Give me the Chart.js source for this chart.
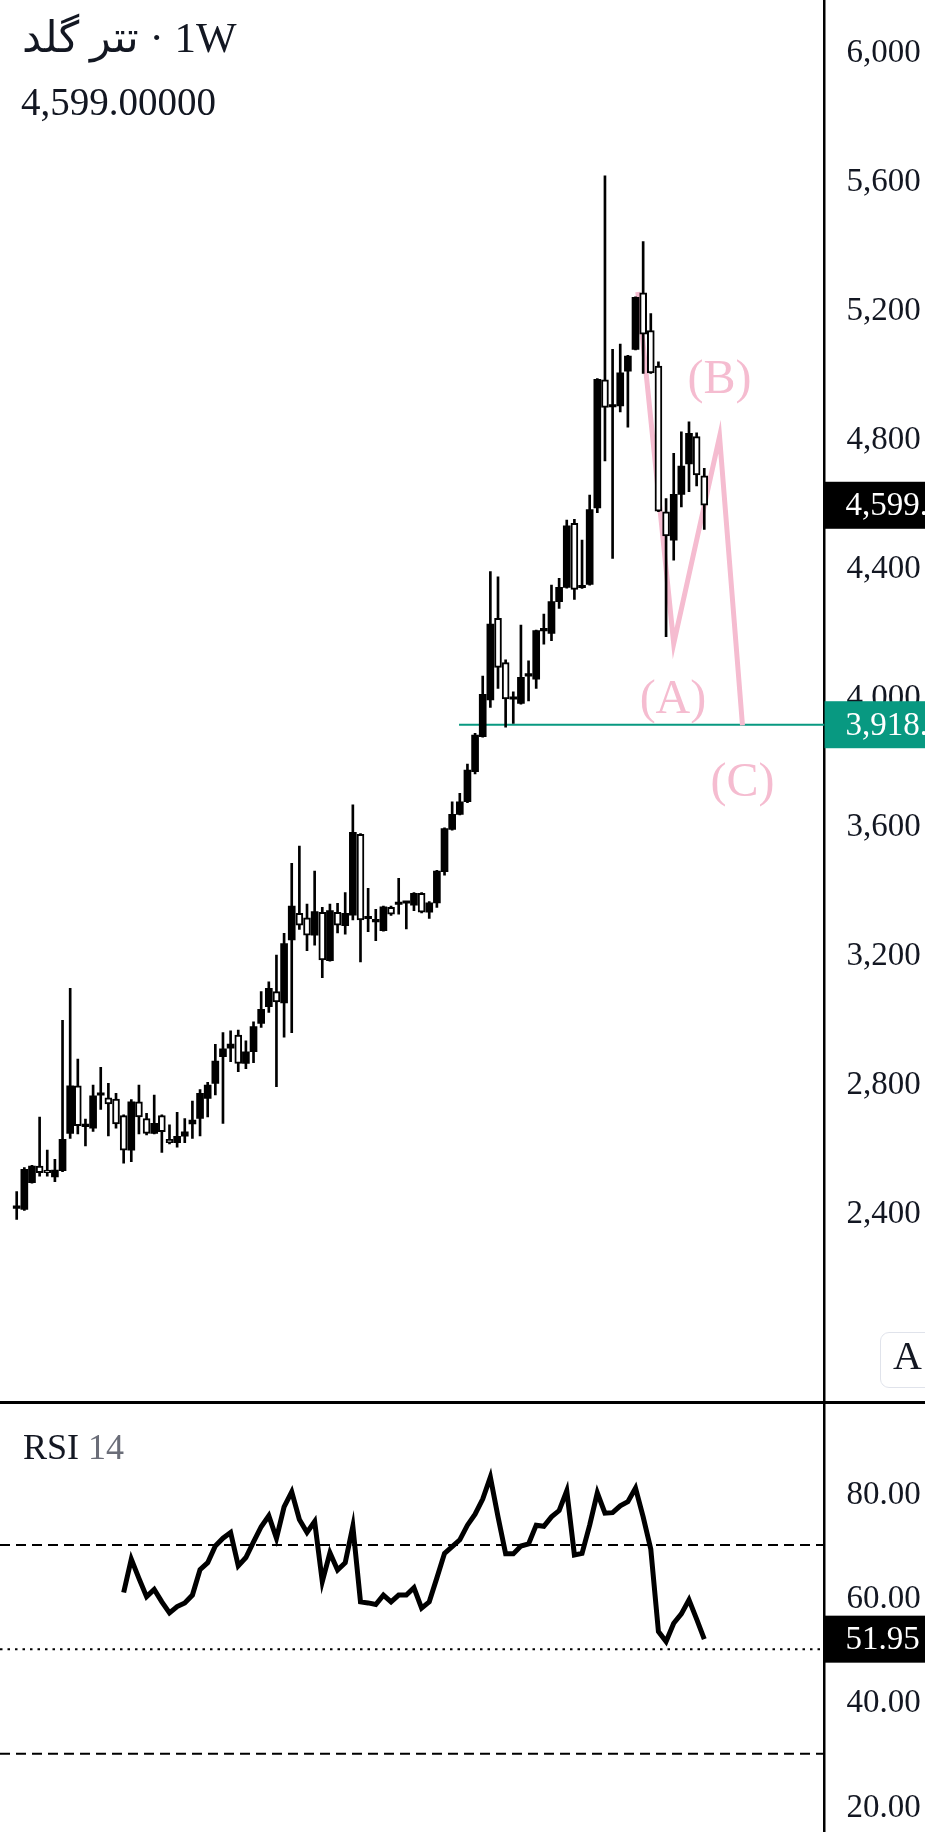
<!DOCTYPE html>
<html><head><meta charset="utf-8">
<script src="https://cdn.jsdelivr.net/npm/chart.js@4.4.1/dist/chart.umd.min.js"></script>
<style>
html,body{margin:0;padding:0;background:#fff;width:925px;height:1832px;overflow:hidden;position:relative}
#main{position:absolute;left:0;top:0;width:1000px;height:1402px}
#rsi{position:absolute;left:0;top:1402px;width:1000px;height:430px}
.t{position:absolute;font-family:"Liberation Serif","DejaVu Sans",serif;color:#131722;white-space:nowrap}
#sep{position:absolute;left:0;top:1400.5px;width:925px;height:3px;background:#000}
#abtn{position:absolute;left:880px;top:1331.5px;width:80px;height:56px;border:1.5px solid #e0e3eb;border-radius:9px;background:#fff;box-sizing:border-box}
</style></head><body>
<div id="main"><canvas id="c1"></canvas></div>
<div id="rsi"><canvas id="c2"></canvas></div>
<div id="sep"></div>
<div class="t" style="left:22px;top:15.5px;font-size:43px;line-height:43px"><bdi>تتر گلد</bdi>&#x200E; · 1W</div>
<div class="t" style="left:21px;top:82.3px;font-size:39px;line-height:39px">4,599.00000</div>
<div class="t" style="left:23px;top:1429px;font-size:36px;line-height:36px">RSI <span style="color:#6a6d78">14</span></div>
<div id="abtn"></div>
<div class="t" style="left:893px;top:1336px;font-size:40px;line-height:40px">A</div>
<script>
// ---- data (weekly OHLC) ----
const open = [2417,2414,2497,2548,2530,2515,2534,2650,2797,2671,
2666,2768,2760,2756,2705,2598,2748,2696,2650,2705,
2631,2621,2641,2679,2696,2758,2805,2888,2914,2955,
2867,2903,2991,3043,3090,3055,3250,3333,3319,3265,
3336,3186,3336,3294,3327,3578,3316,3306,3279,3351,
3360,3364,3358,3395,3336,3365,3462,3593,3640,3679,
3772,3881,3995,4248,4111,3997,3984,4069,4059,4209,
4201,4300,4344,4543,4343,4353,4591,4988,4904,4907,
5015,5083,5258,5141,5031,4579,4491,4633,4727,4812,
4690];
const high = [2469,2544,2551,2700,2598,2569,3001,3100,2880,2694,
2800,2855,2805,2774,2707,2755,2800,2712,2769,2707,
2676,2715,2696,2750,2786,2808,2926,2963,2968,2970,
2937,2996,3090,3120,3203,3271,3488,3541,3361,3464,
3351,3361,3364,3397,3669,3580,3410,3345,3355,3355,
3441,3368,3397,3397,3369,3466,3598,3679,3705,3796,
3891,4069,4393,4377,4119,4020,4227,4116,4212,4261,
4351,4372,4553,4555,4491,4631,4992,5621,5083,5099,
5064,5246,5417,5194,5044,4620,4760,4827,4858,4824,
4714];
const low = [2383,2411,2495,2517,2517,2500,2531,2634,2648,2611,
2656,2724,2642,2666,2557,2562,2648,2645,2648,2591,
2617,2607,2621,2634,2642,2701,2769,2681,2872,2841,
2851,2869,2979,3025,2795,2948,2962,3283,3217,3234,
3133,3184,3272,3268,3312,3182,3276,3248,3277,3326,
3330,3284,3341,3334,3317,3351,3451,3591,3638,3676,
3765,3879,3972,4031,3910,3922,3982,3992,4031,4168,
4179,4279,4342,4307,4341,4351,4576,4737,4434,4889,
4841,5081,5008,5008,4579,4191,4429,4594,4641,4659,
4524];
const close = [2419,2538,2548,2528,2528,2536,2631,2797,2674,2673,
2766,2770,2741,2679,2598,2748,2701,2650,2681,2655,
2621,2641,2655,2691,2774,2800,2874,2912,2927,2867,
2903,2981,3035,3100,3058,3239,3355,3296,3265,3338,
3188,3341,3296,3333,3584,3312,3318,3308,3353,3330,
3362,3366,3395,3336,3365,3464,3596,3640,3679,3777,
3886,4012,4230,4096,3998,3999,4065,4071,4210,4211,
4300,4344,4535,4338,4346,4586,4990,4903,4906,5010,
5062,5244,5130,5010,4581,4504,4633,4721,4822,4693,
4599];
const rsiStart = 14;
const rsi = [60.9,67.3,63.6,60.1,61.5,59.1,57.0,58.2,58.9,60.4,
65.3,66.6,69.8,71.3,72.4,66.0,67.6,70.6,73.5,75.6,
71.3,77.3,80.2,74.9,72.4,74.5,63.0,68.5,65.2,66.6,
73.6,59.1,58.9,58.6,60.4,59.1,60.4,60.4,61.8,57.9,
59.1,63.7,68.4,69.7,71.0,73.8,75.9,78.8,83.0,75.4,
68.3,68.3,69.8,70.2,73.8,73.6,75.4,76.6,80.4,68.1,
68.4,73.8,80.0,76.1,76.2,77.5,78.3,80.9,75.4,69.2,
53.4,51.5,55.0,56.8,59.5,55.8,51.95];
const priceTicks = [2400,2800,3200,3600,4000,4400,4800,5200,5600,6000];
const rsiTicks = [20,40,60,80];
const rsiBands = [70,50,30];
const supportLevel = 3918;
const supportStartIndex = 57.9;
const waveX = [81.3,86,92,95];
const waveY = [5261,4170,4812,3916];
const waveLabels = ['(A)','(B)','(C)'];
const waveLabelX = [85.9,92.0,95.0];
const waveLabelY = [3994,4988,3737];

// ---- styles ----
const FONT = '"Liberation Serif", serif';
const TXT = '#131722';
const PINK = '#f5bcd0';
const TEAL = '#089981';
const XMIN = -2.186, XMAX = 105.75;
const AXIS_W = 175.4;
const fmtTick = v => v.toLocaleString('en-US');
const fmtPrice = v => v.toLocaleString('en-US',{minimumFractionDigits:5,maximumFractionDigits:5});
const isUp = i => close[i] >= open[i];

const lastClose = close[close.length-1];
const lastRsi = rsi[rsi.length-1];

function axisY(ticks, fmt, labelOffset){
  return {
    type:'linear', position:'right',
    grid:{display:false, drawTicks:false},
    border:{display:true, color:'#000', width:2.5},
    ticks:{padding:22, color:TXT, font:{family:FONT, size:33}, callback:v=>fmt(v), autoSkip:false, labelOffset:labelOffset},
    afterBuildTicks:s=>{ s.ticks = ticks.map(v=>({value:v})); },
    afterFit:s=>{ s.width = AXIS_W; s.paddingTop = 0; s.paddingBottom = 0; }
  };
}
function boxLabel(chart, scale, value, color, text){
  const ctx = chart.ctx, ca = chart.chartArea;
  const y = scale.getPixelForValue(value);
  ctx.save();
  ctx.fillStyle = color;
  ctx.fillRect(ca.right, y-23.5, chart.width-ca.right, 47);
  ctx.fillStyle = '#fff';
  ctx.font = '33px ' + FONT;
  ctx.textBaseline = 'middle';
  ctx.textAlign = 'left';
  ctx.fillText(text, ca.right+21, y+1.5);
  ctx.restore();
}

const idx = open.map((_,i)=>i);
const mainPlugin = {
  id:'mainExtras',
  afterDatasetsDraw(chart){
    const ctx = chart.ctx, xs = chart.scales.x, ys = chart.scales.y;
    ctx.save();
    ctx.fillStyle = PINK;
    ctx.font = '48px ' + FONT;
    ctx.textAlign = 'center';
    ctx.textBaseline = 'middle';
    waveLabels.forEach((t,k)=>ctx.fillText(t, xs.getPixelForValue(waveLabelX[k]), ys.getPixelForValue(waveLabelY[k])));
    ctx.restore();
  },
  afterDraw(chart){
    const ys = chart.scales.y;
    boxLabel(chart, ys, lastClose, '#000', fmtPrice(lastClose));
    boxLabel(chart, ys, supportLevel, TEAL, fmtPrice(supportLevel));
  }
};

new Chart(document.getElementById('c1'), {
  type:'bar',
  data:{datasets:[
    {label:'body', data: idx.map(i=>({x:i, y:[open[i], close[i]]})),
     backgroundColor: c=> isUp(c.dataIndex) ? '#000' : '#fff',
     borderColor:'#000', borderWidth: c=> isUp(c.dataIndex) ? 0 : 2,
     borderSkipped:false, barThickness:7, grouped:false, minBarLength:2.5, order:1},
    {label:'wick', data: idx.map(i=>({x:i, y:[low[i], high[i]]})),
     backgroundColor:'#000', borderWidth:0, barThickness:2, grouped:false, minBarLength:1, order:2},
    {type:'line', label:'wave', data: waveX.map((x,k)=>({x, y:waveY[k]})),
     borderColor:PINK, borderWidth:5, pointRadius:0, tension:0, order:3},
    {type:'line', label:'support', data:[{x:supportStartIndex, y:supportLevel},{x:XMAX, y:supportLevel}],
     borderColor:TEAL, borderWidth:2, pointRadius:0, order:4}
  ]},
  options:{
    responsive:true, maintainAspectRatio:false, animation:false,
    layout:{padding:0},
    plugins:{legend:{display:false}, tooltip:{enabled:false}},
    scales:{
      x:{type:'linear', display:false, min:XMIN, max:XMAX, offset:false},
      y:Object.assign(axisY(priceTicks, fmtTick, 0), {min:1816.2, max:6167.0})
    }
  },
  plugins:[mainPlugin]
});

const rsiPlugin = {
  id:'rsiExtras',
  beforeDatasetsDraw(chart){
    const ctx = chart.ctx, ca = chart.chartArea, ys = chart.scales.y;
    ctx.save();
    ctx.strokeStyle = '#000';
    ctx.lineWidth = 2;
    rsiBands.forEach(b=>{
      const y = ys.getPixelForValue(b);
      ctx.setLineDash(b === 50 ? [2.5,5] : [10,6]);
      ctx.beginPath(); ctx.moveTo(ca.left, y); ctx.lineTo(ca.right, y); ctx.stroke();
    });
    ctx.restore();
  },
  afterDraw(chart){
    boxLabel(chart, chart.scales.y, lastRsi, '#000', lastRsi.toFixed(2));
  }
};

new Chart(document.getElementById('c2'), {
  type:'line',
  data:{datasets:[
    {label:'RSI', data: rsi.map((v,k)=>({x:rsiStart+k, y:v})),
     borderColor:'#000', borderWidth:5, pointRadius:0, tension:0, fill:false}
  ]},
  options:{
    responsive:true, maintainAspectRatio:false, animation:false,
    layout:{padding:0},
    plugins:{legend:{display:false}, tooltip:{enabled:false}},
    scales:{
      x:{type:'linear', display:false, min:XMIN, max:XMAX, offset:false},
      y:Object.assign(axisY(rsiTicks, v=>v.toFixed(2), 2), {min:14.99, max:97.41})
    }
  },
  plugins:[rsiPlugin]
});
</script>
</body></html>
